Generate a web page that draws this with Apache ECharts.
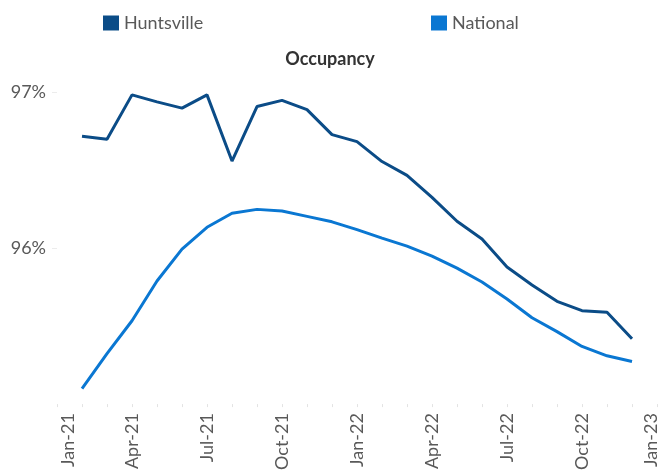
<!DOCTYPE html>
<html>
<head>
<meta charset="utf-8">
<script src="https://cdn.jsdelivr.net/npm/echarts@6/dist/echarts.min.js"></script>
<style>
  html, body { margin: 0; padding: 0; background: #fff; }
  #chart { width: 660px; height: 473px; }
</style>
</head>
<body>
<div id="chart"></div>
<script>
// months on the axis, Jan-21 .. Jan-23 (first and last have no data)
const months = ['Jan-21', 'Feb-21', 'Mar-21', 'Apr-21', 'May-21', 'Jun-21', 'Jul-21', 'Aug-21',
  'Sep-21', 'Oct-21', 'Nov-21', 'Dec-21', 'Jan-22', 'Feb-22', 'Mar-22', 'Apr-22', 'May-22',
  'Jun-22', 'Jul-22', 'Aug-22', 'Sep-22', 'Oct-22', 'Nov-22', 'Dec-22', 'Jan-23'];

// occupancy in %
const huntsville = [null, 96.72, 96.70, 96.985, 96.94, 96.90, 96.985, 96.56, 96.91, 96.95, 96.89,
  96.73, 96.685, 96.557, 96.468, 96.327, 96.174, 96.06, 95.88, 95.765, 95.66, 95.60, 95.59, 95.42, null];
const national = [null, 95.10, 95.324, 95.535, 95.79, 95.995, 96.135, 96.225, 96.25, 96.24, 96.205,
  96.17, 96.12, 96.065, 96.014, 95.95, 95.873, 95.784, 95.675, 95.554, 95.465, 95.37, 95.31, 95.273, null];

const FONT = 'Lato';
const GREY = '#595959';
const DARK = '#0B4C87';
const LIGHT = '#0A77D2';

const chart = echarts.init(document.getElementById('chart'));

chart.setOption({
  animation: false,
  title: {
    text: 'Occupancy',
    left: 'center',
    top: 45,
    textStyle: { fontFamily: FONT, fontSize: 18, fontWeight: 'bold', color: '#333' },
  },
  legend: [
    {
      data: ['Huntsville'],
      left: 98,
      top: 9,
      icon: 'rect',
      itemWidth: 16,
      itemHeight: 15,
      textStyle: { fontFamily: FONT, fontSize: 18, color: GREY },
    },
    {
      data: ['National'],
      left: 426,
      top: 9,
      icon: 'rect',
      itemWidth: 16,
      itemHeight: 15,
      textStyle: { fontFamily: FONT, fontSize: 18, color: GREY },
    },
  ],
  grid: { left: 57, right: -5, top: 53.6, bottom: 67, containLabel: false },
  xAxis: {
    type: 'category',
    data: months,
    boundaryGap: false,
    axisLine: { show: false },
    axisTick: { show: true, interval: 0, length: 3, lineStyle: { color: '#e3e3e3' } },
    axisLabel: {
      interval: 2,
      rotate: 90,
      margin: 9,
      fontFamily: FONT,
      fontSize: 18,
      color: GREY,
      formatter: (v, i) => {
        if (i === 0) return '{a|' + v + '}';
        if (i === months.length - 1) return '{b|' + v + '}';
        return v;
      },
      rich: {
        a: { fontFamily: FONT, fontSize: 18, color: GREY, padding: [22, 0, 0, 0] },
        b: { fontFamily: FONT, fontSize: 18, color: GREY, padding: [0, 0, 12, 0] },
      },
    },
    splitLine: { show: false },
  },
  yAxis: {
    type: 'value',
    min: 95,
    max: 97.25,
    interval: 1,
    axisLine: { show: false },
    axisTick: { show: true, length: 5, lineStyle: { color: '#ececec' } },
    splitLine: { show: false },
    axisLabel: {
      showMinLabel: false,
      showMaxLabel: false,
      margin: 11,
      fontFamily: FONT,
      fontSize: 18,
      color: GREY,
      formatter: v => v + '%',
    },
  },
  series: [
    {
      name: 'Huntsville',
      type: 'line',
      data: huntsville,
      symbol: 'none',
      itemStyle: { color: DARK },
      lineStyle: { color: DARK, width: 3 },
    },
    {
      name: 'National',
      type: 'line',
      data: national,
      symbol: 'none',
      itemStyle: { color: LIGHT },
      lineStyle: { color: LIGHT, width: 3 },
    },
  ],
});
</script>
</body>
</html>
